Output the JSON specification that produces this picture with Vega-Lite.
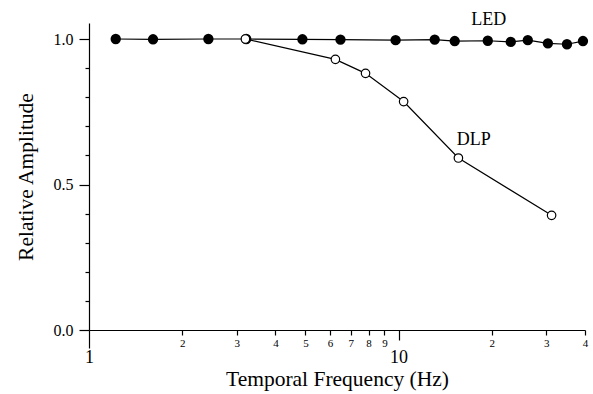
{
  "$schema": "https://vega.github.io/schema/vega-lite/v6.json",
  "width": 496,
  "height": 307,
  "autosize": {"type": "none"},
  "padding": {"left": 89, "top": 23, "right": 8, "bottom": 64},
  "background": "white",
  "config": {
    "view": {"stroke": null},
    "font": "Liberation Serif",
    "axis": {"grid": false, "domainColor": "black", "tickColor": "black", "labelColor": "black", "titleColor": "black", "labelFont": "Liberation Serif", "titleFont": "Liberation Serif", "titleFontWeight": "normal", "domainWidth": 1.2, "tickWidth": 1.2}
  },
  "datasets": {
    "pts": [
      {"series": "LED", "f": 1.22, "amp": 1.0},
      {"series": "LED", "f": 1.61, "amp": 0.999},
      {"series": "LED", "f": 2.43, "amp": 1.0},
      {"series": "LED", "f": 3.22, "amp": 1.0},
      {"series": "LED", "f": 4.89, "amp": 0.999},
      {"series": "LED", "f": 6.49, "amp": 0.998},
      {"series": "LED", "f": 9.78, "amp": 0.996},
      {"series": "LED", "f": 13.08, "amp": 0.998},
      {"series": "LED", "f": 15.18, "amp": 0.993},
      {"series": "LED", "f": 19.41, "amp": 0.994},
      {"series": "LED", "f": 23.03, "amp": 0.99},
      {"series": "LED", "f": 26.14, "amp": 0.996},
      {"series": "LED", "f": 30.35, "amp": 0.985},
      {"series": "LED", "f": 34.98, "amp": 0.982},
      {"series": "LED", "f": 39.4, "amp": 0.993},
      {"series": "DLP", "f": 3.2, "amp": 1.0},
      {"series": "DLP", "f": 6.25, "amp": 0.93},
      {"series": "DLP", "f": 7.82, "amp": 0.882},
      {"series": "DLP", "f": 10.38, "amp": 0.785},
      {"series": "DLP", "f": 15.6, "amp": 0.591},
      {"series": "DLP", "f": 31.2, "amp": 0.394}
    ],
    "labels": [
      {"label": "LED", "f": 19.55, "amp": 1.064},
      {"label": "DLP", "f": 17.5, "amp": 0.653}
    ]
  },
  "data": {"name": "pts"},
  "encoding": {
    "x": {
      "field": "f", "type": "quantitative",
      "scale": {"type": "log", "domain": [1, 40], "nice": false},
      "axis": {
        "title": "Temporal Frequency (Hz)",
        "titleFontSize": 21.5,
        "titlePadding": 2,
        "values": [1, 2, 3, 4, 5, 6, 7, 8, 9, 10, 20, 30, 40],
        "labelExpr": "datum.value == 10 ? '10' : datum.value > 10 ? '' + (datum.value / 10) : '' + datum.value",
        "labelFontSize": {"condition": {"test": "datum.value == 1 || datum.value == 10", "value": 18}, "value": 11},
        "labelPadding": {"condition": [{"test": "datum.value == 1", "value": 0}, {"test": "datum.value == 10", "value": 8}], "value": 2},
        "tickSize": {"condition": [{"test": "datum.value == 1", "value": 18}, {"test": "datum.value == 10", "value": 10}], "value": 5},
        "labelOverlap": false,
        "labelBound": false,
        "labelFlush": false
      }
    },
    "y": {
      "field": "amp", "type": "quantitative",
      "scale": {"domain": [0, 1.055], "nice": false, "zero": false},
      "axis": {
        "title": "Relative Amplitude",
        "titleFontSize": 21.5,
        "titlePadding": 16,
        "values": [0, 0.1, 0.2, 0.3, 0.4, 0.5, 0.6, 0.7, 0.8, 0.9, 1.0],
        "labelExpr": "(abs(datum.value) < 0.001 || abs(datum.value - 0.5) < 0.001 || abs(datum.value - 1) < 0.001) ? format(datum.value, '.1f') : ''",
        "labelFontSize": 16,
        "labelPadding": 6,
        "tickSize": {"condition": {"test": "abs(datum.value) < 0.001 || abs(datum.value - 0.5) < 0.001 || abs(datum.value - 1) < 0.001", "value": 10}, "value": 4},
        "labelOverlap": false
      }
    }
  },
  "layer": [
    {
      "mark": {"type": "line", "color": "black", "strokeWidth": 1.2},
      "encoding": {"detail": {"field": "series", "type": "nominal"}}
    },
    {
      "transform": [{"filter": "datum.series == 'LED'"}],
      "mark": {"type": "point", "shape": "circle", "filled": true, "fill": "black", "stroke": "black", "size": 70, "opacity": 1}
    },
    {
      "transform": [{"filter": "datum.series == 'DLP'"}],
      "mark": {"type": "point", "shape": "circle", "filled": true, "fill": "white", "stroke": "black", "strokeWidth": 1.2, "size": 72, "opacity": 1}
    },
    {
      "data": {"name": "labels"},
      "mark": {"type": "text", "font": "Liberation Serif", "fontSize": 18, "color": "black", "align": "center", "baseline": "middle"},
      "encoding": {"text": {"field": "label", "type": "nominal"}}
    }
  ]
}
